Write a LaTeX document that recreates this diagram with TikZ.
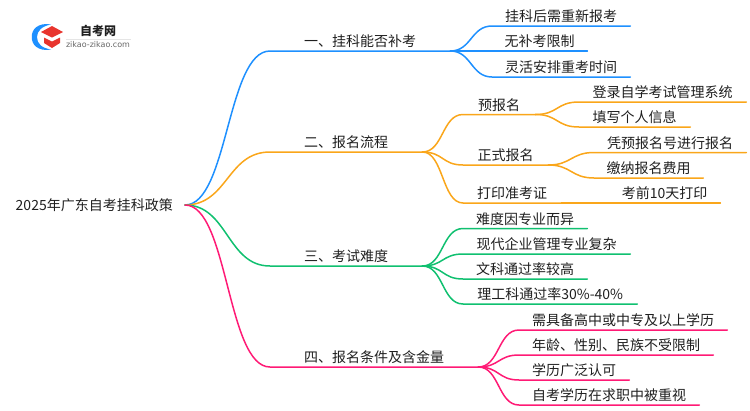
\documentclass[tikz,border=0pt]{standalone}
\usepackage{fontspec}
\setmainfont{Noto Sans CJK SC}
\newfontfamily\logolatin{DejaVu Sans}
\definecolor{lineblue}{HTML}{1E90FF}
\definecolor{lineorange}{HTML}{FAA61A}
\definecolor{linegreen}{HTML}{10C070}
\definecolor{linepink}{HTML}{FF1A75}
\definecolor{inktext}{HTML}{1F1F1F}
\definecolor{logored}{HTML}{E8352E}
\tikzset{
  lab/.style={inner xsep=0pt,inner ysep=2pt,text height=13.7pt,text depth=2.3pt,anchor=south west,font=\fontsize{14}{14}\selectfont,text=inktext},
  rootlab/.style={lab,inner xsep=12pt,text height=13pt,text depth=3pt,anchor=east},
  link/.style={line width=1.5pt,line cap=round},
  sweep/.style={to path={.. controls +(#1,0) and +(-#1,0) .. (\tikztotarget)}},
}
\begin{document}
\begin{tikzpicture}[x=1pt,y=-1pt]
  \useasboundingbox (0,0) rectangle (750,410);
  % logo
  \fill[lineblue] (51,24.5) .. controls (38,22) and (31,30) .. (32,37) .. controls (31,44) and (38,52) .. (51,49.5)
    .. controls (42,48) and (37,44) .. (37,37) .. controls (37,31) and (42,26) .. (51,24.5);
  \fill[logored] (41,32) -- (52,26) -- (63,32) -- (52,37.5) -- cycle;
  \fill[logored] (44,37.5) -- (52,41.5) -- (60,37.5) -- (60,43) -- (52,48) -- (44,43) -- cycle;
  \draw[black!10,line width=.6pt] (66,39) -- (131,39);
  \node[font=\fontsize{12}{12}\selectfont\bfseries,text=inktext] (logotitle) at (98,31) {自考网};
  \node[font=\fontsize{8}{8}\logolatin,text=black!60] (logourl) at (98,44.7) {zikao-zikao.com};
  % root
  \node[rootlab] (root) at (185,205) {2025年广东自考挂科政策};
  % first branch
  \node[lab,minimum width=180pt] (b1) at (270,51) {一、挂科能否补考};
  \node[lab,minimum width=138pt] (b1a) at (492,26) {挂科后需重新报考};
  \node[lab,minimum width=95pt] (b1b) at (492,51) {无补考限制};
  \node[lab,minimum width=138pt] (b1c) at (492,77) {灵活安排重考时间};
  \draw[link,lineblue] (root.east) to[sweep=43] (b1.south west) -- (b1.south east);
  \draw[link,lineblue] (b1.south east) to[sweep=21] (b1a.south west) -- (b1a.south east);
  \draw[link,lineblue] (b1.south east) -- (b1b.south west) -- (b1b.south east);
  \draw[link,lineblue] (b1.south east) to[sweep=21] (b1c.south west) -- (b1c.south east);
  % second branch
  \node[lab,minimum width=152pt] (b2) at (270,152) {二、报名流程};
  \node[lab,minimum width=72pt] (b2a) at (463,114.5) {预报名};
  \node[lab,minimum width=167pt] (b2a1) at (579,102) {登录自学考试管理系统};
  \node[lab,minimum width=111pt] (b2a2) at (579,127) {填写个人信息};
  \node[lab,minimum width=85pt] (b2b) at (463,165) {正式报名};
  \node[lab,minimum width=152pt] (b2b1) at (594,152.5) {凭预报名号进行报名};
  \node[lab,minimum width=109pt] (b2b2) at (594,178) {缴纳报名费用};
  \node[lab,minimum width=98pt] (b2c) at (463,203) {打印准考证};
  \node[lab,minimum width=111pt] (b2c1) at (609,203) {考前10天打印};
  \draw[link,lineorange] (root.east) to[sweep=43] (b2.south west) -- (b2.south east);
  \draw[link,lineorange] (b2.south east) to[sweep=21] (b2a.south west) -- (b2a.south east);
  \draw[link,lineorange] (b2a.south east) to[sweep=23] (b2a1.south west) -- (b2a1.south east);
  \draw[link,lineorange] (b2a.south east) to[sweep=23] (b2a2.south west) -- (b2a2.south east);
  \draw[link,lineorange] (b2.south east) to[sweep=21] (b2b.south west) -- (b2b.south east);
  \draw[link,lineorange] (b2b.south east) to[sweep=23] (b2b1.south west) -- (b2b1.south east);
  \draw[link,lineorange] (b2b.south east) to[sweep=23] (b2b2.south west) -- (b2b2.south east);
  \draw[link,lineorange] (b2.south east) to[sweep=21] (b2c.south west) -- (b2c.south east);
  \draw[link,lineorange] (b2c.south east) -- (b2c1.south west) -- (b2c1.south east);
  % third branch
  \node[lab,minimum width=152pt] (b3) at (270,266) {三、考试难度};
  \node[lab,minimum width=124pt] (b3a) at (463,228.5) {难度因专业而异};
  \node[lab,minimum width=167pt] (b3b) at (463,254) {现代企业管理专业复杂};
  \node[lab,minimum width=124pt] (b3c) at (463,279) {文科通过率较高};
  \node[lab,minimum width=174pt] (b3d) at (463,304) {理工科通过率30\%-40\%};
  \draw[link,linegreen] (root.east) to[sweep=43] (b3.south west) -- (b3.south east);
  \draw[link,linegreen] (b3.south east) to[sweep=21] (b3a.south west) -- (b3a.south east);
  \draw[link,linegreen] (b3.south east) to[sweep=21] (b3b.south west) -- (b3b.south east);
  \draw[link,linegreen] (b3.south east) to[sweep=21] (b3c.south west) -- (b3c.south east);
  \draw[link,linegreen] (b3.south east) to[sweep=21] (b3d.south west) -- (b3d.south east);
  % fourth branch
  \node[lab,minimum width=208pt] (b4) at (270,367) {四、报名条件及含金量};
  \node[lab,minimum width=208pt] (b4a) at (519,330) {需具备高中或中专及以上学历};
  \node[lab,minimum width=194pt] (b4b) at (519,355) {年龄、性别、民族不受限制};
  \node[lab,minimum width=110pt] (b4c) at (519,380) {学历广泛认可};
  \node[lab,minimum width=180pt] (b4d) at (519,405) {自考学历在求职中被重视};
  \draw[link,linepink] (root.east) to[sweep=43] (b4.south west) -- (b4.south east);
  \draw[link,linepink] (b4.south east) to[sweep=21] (b4a.south west) -- (b4a.south east);
  \draw[link,linepink] (b4.south east) to[sweep=21] (b4b.south west) -- (b4b.south east);
  \draw[link,linepink] (b4.south east) to[sweep=21] (b4c.south west) -- (b4c.south east);
  \draw[link,linepink] (b4.south east) to[sweep=21] (b4d.south west) -- (b4d.south east);
\end{tikzpicture}
\end{document}
